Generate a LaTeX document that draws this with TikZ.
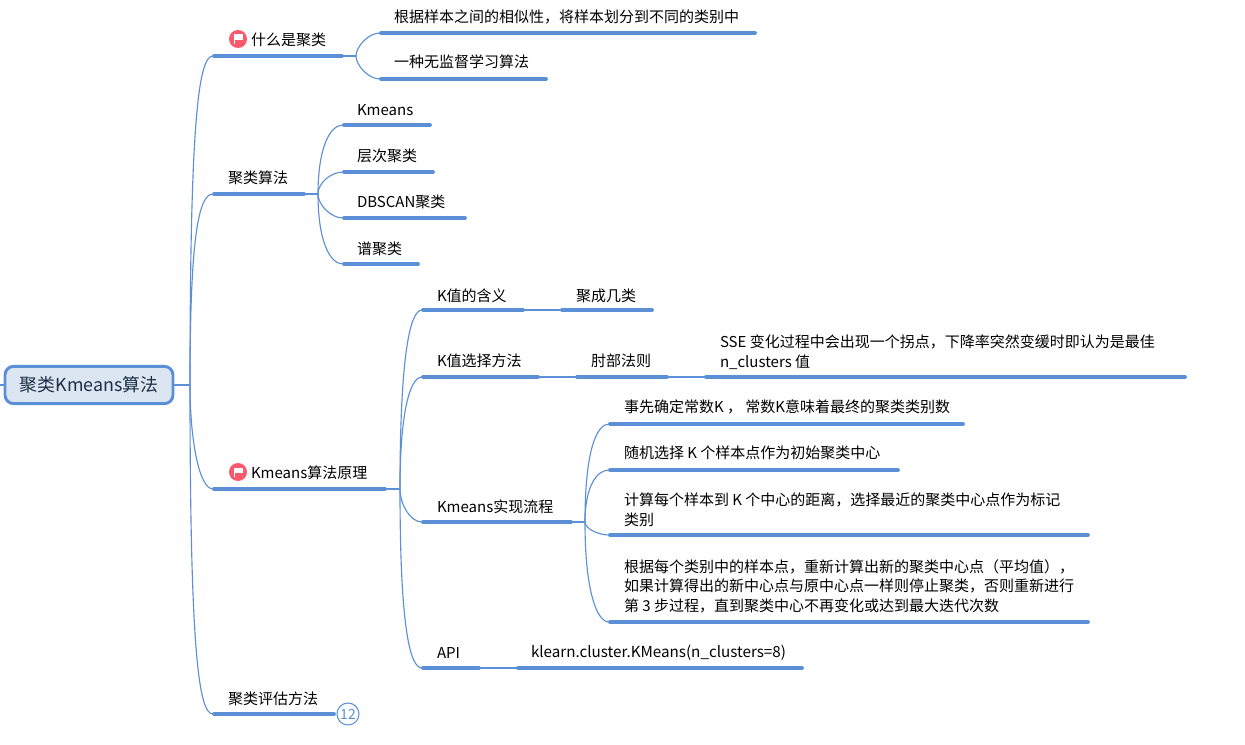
\documentclass[tikz,border=0pt]{standalone}
\usepackage{fontspec}
\setmainfont{Noto Sans CJK SC}
\usetikzlibrary{calc}
\definecolor{lineblue}{HTML}{5B8FD6}
\definecolor{rootfill}{HTML}{DCE6F2}
\definecolor{rootink}{HTML}{1F2D45}
\definecolor{flagred}{HTML}{FB5A6C}
\tikzset{
  bar/.style={draw=lineblue,line width=2.7pt,line cap=round,shorten <=0.7pt,shorten >=0.7pt},
  conn/.style={draw=lineblue,line width=0.85pt},
  txt/.style={anchor=base west,inner sep=0pt,outer sep=0pt,font=\fontsize{11.25pt}{14.6pt}\selectfont,text=black},
  rootbox/.style={draw=lineblue,fill=rootfill,line width=2.2pt,rounded corners=6.5pt,minimum width=126pt,minimum height=28pt,inner sep=0pt,font=\fontsize{13.4pt}{16pt}\selectfont,text=rootink},
  flagdot/.style={circle,fill=flagred,minimum size=13.5pt,inner sep=0pt},
  badge/.style={circle,draw=lineblue,fill=white,line width=0.8pt,minimum size=16.5pt,inner sep=0pt,font=\fontsize{10.5pt}{12pt}\selectfont,text=lineblue}
}
\newcommand\tbar[4]{\coordinate (#1-l) at (#2,#4); \coordinate (#1-r) at (#3,#4); \draw[bar] (#1-l) -- (#1-r);}
\newcommand\tlab[4]{\node[txt] (#1-t) at (#2,#3+1) {#4};}
\newcommand\mlines[1]{\begin{tabular}[b]{@{}l@{}}#1\end{tabular}}
\newcommand\bend[4]{\draw[conn] (#1) .. controls ($(#1|-#2)+(0,#3)$) and ($(#2)+(-#4,0)$) .. (#2);}
\newcommand\flagicon[3]{\node[flagdot] (#1) at (#2,#3) {};
  \fill[white] ($(#1)+(-4,-4.5)$) rectangle ($(#1)+(-2.8,5)$);
  \fill[white] ($(#1)+(-2.8,-4.5)$) -- ($(#1)+(4.5,-4.5)$) -- ($(#1)+(4.5,1)$) -- ($(#1)+(-2.8,1)$) -- cycle;}
\begin{document}
\begin{tikzpicture}[x=0.75pt,y=-0.75pt]
\useasboundingbox (0,0) rectangle (1245,745);
\node[rootbox] (root) at (89,385) {聚类Kmeans算法};
\coordinate (stub) at (0,385);
\coordinate (j0) at (190,385);
\draw[conn] (stub) -- (root.west);
\draw[draw=lineblue,line width=1.6pt] (root.east) -- (j0);

% level 1
\tbar{a}{213}{343}{56} \tbar{b}{213}{305}{194} \tbar{c}{213}{386}{489} \tbar{d}{213}{335}{714}
\bend{j0}{a-l}{60}{14} \bend{j0}{b-l}{40}{14} \bend{j0}{c-l}{-50}{14} \bend{j0}{d-l}{-60}{14}
\flagicon{fa}{238}{39}
\flagicon{fc}{238}{472}
\tlab{a}{251}{45}{什么是聚类}
\tlab{b}{228}{183}{聚类算法}
\tlab{c}{251}{477}{Kmeans算法原理}
\tlab{d}{228}{703}{聚类评估方法}
\node[badge] (more) at (348,714) {12};

% what is clustering
\coordinate (ja) at (356,56);
\draw[conn] (a-r) -- (ja);
\tbar{a1}{380}{756}{33} \tbar{a2}{380}{547}{79}
\bend{ja}{a1-l}{14}{12} \bend{ja}{a2-l}{-14}{12}
\tlab{a1}{394}{22}{根据样本之间的相似性，将样本划分到不同的类别中}
\tlab{a2}{394}{67}{一种无监督学习算法}

% algorithms
\coordinate (jb) at (318,194);
\draw[conn] (b-r) -- (jb);
\tbar{b1}{343}{431}{125} \tbar{b2}{343}{434}{172} \tbar{b3}{343}{466}{218} \tbar{b4}{343}{419}{264}
\bend{jb}{b1-l}{25}{14} \bend{jb}{b2-l}{11}{12} \bend{jb}{b3-l}{-13}{12} \bend{jb}{b4-l}{-25}{14}
\tlab{b1}{357}{115}{Kmeans}
\tlab{b2}{357}{161}{层次聚类}
\tlab{b3}{357}{207}{DBSCAN聚类}
\tlab{b4}{357}{253}{谱聚类}

% principle
\coordinate (jc) at (400,489);
\draw[conn] (c-r) -- (jc);
\tbar{c1}{422}{524}{310} \tbar{c2}{422}{539}{377} \tbar{c3}{422}{572}{522} \tbar{c4}{422}{480}{668}
\bend{jc}{c1-l}{45}{12} \bend{jc}{c2-l}{35}{12} \bend{jc}{c3-l}{-18}{12} \bend{jc}{c4-l}{-40}{12}
\tlab{c1}{437}{300}{K值的含义}
\tlab{c2}{437}{365}{K值选择方法}
\tlab{c3}{437}{511}{Kmeans实现流程}
\tlab{c4}{437}{657}{API}

\tbar{c11}{561}{653}{310}
\draw[conn] (c1-r) -- (c11-l);
\tlab{c11}{576}{300}{聚成几类}

\tbar{c21}{576}{668}{377}
\draw[conn] (c2-r) -- (c21-l);
\tlab{c21}{591}{365}{肘部法则}
\tbar{c22}{705}{1186}{377}
\draw[conn] (c21-r) -- (c22-l);
\tlab{c22}{720}{366}{\mlines{SSE 变化过程中会出现一个拐点，下降率突然变缓时即认为是最佳\\n\_clusters 值}}

\coordinate (jd) at (585,522);
\draw[conn] (c3-r) -- (jd);
\tbar{d1}{609}{964}{424} \tbar{d2}{609}{899}{470} \tbar{d3}{609}{1089}{535} \tbar{d4}{609}{1089}{622}
\bend{jd}{d1-l}{25}{12} \bend{jd}{d2-l}{16}{12} \bend{jd}{d3-l}{-6}{10} \bend{jd}{d4-l}{-30}{12}
\tlab{d1}{624}{411}{事先确定常数K ， 常数K意味着最终的聚类类别数}
\tlab{d2}{624}{457}{随机选择 K 个样本点作为初始聚类中心}
\tlab{d3}{624}{524}{\mlines{计算每个样本到 K 个中心的距离，选择最近的聚类中心点作为标记\\类别}}
\tlab{d4}{624}{610}{\mlines{根据每个类别中的样本点，重新计算出新的聚类中心点（平均值），\\如果计算得出的新中心点与原中心点一样则停止聚类，否则重新进行\\第 3 步过程，直到聚类中心不再变化或达到最大迭代次数}}

\tbar{c41}{517}{803}{668}
\draw[conn] (c4-r) -- (c41-l);
\tlab{c41}{531}{656}{\fontsize{11.4pt}{14.6pt}\selectfont klearn.cluster.KMeans(n\_clusters=8)}
\end{tikzpicture}
\end{document}
